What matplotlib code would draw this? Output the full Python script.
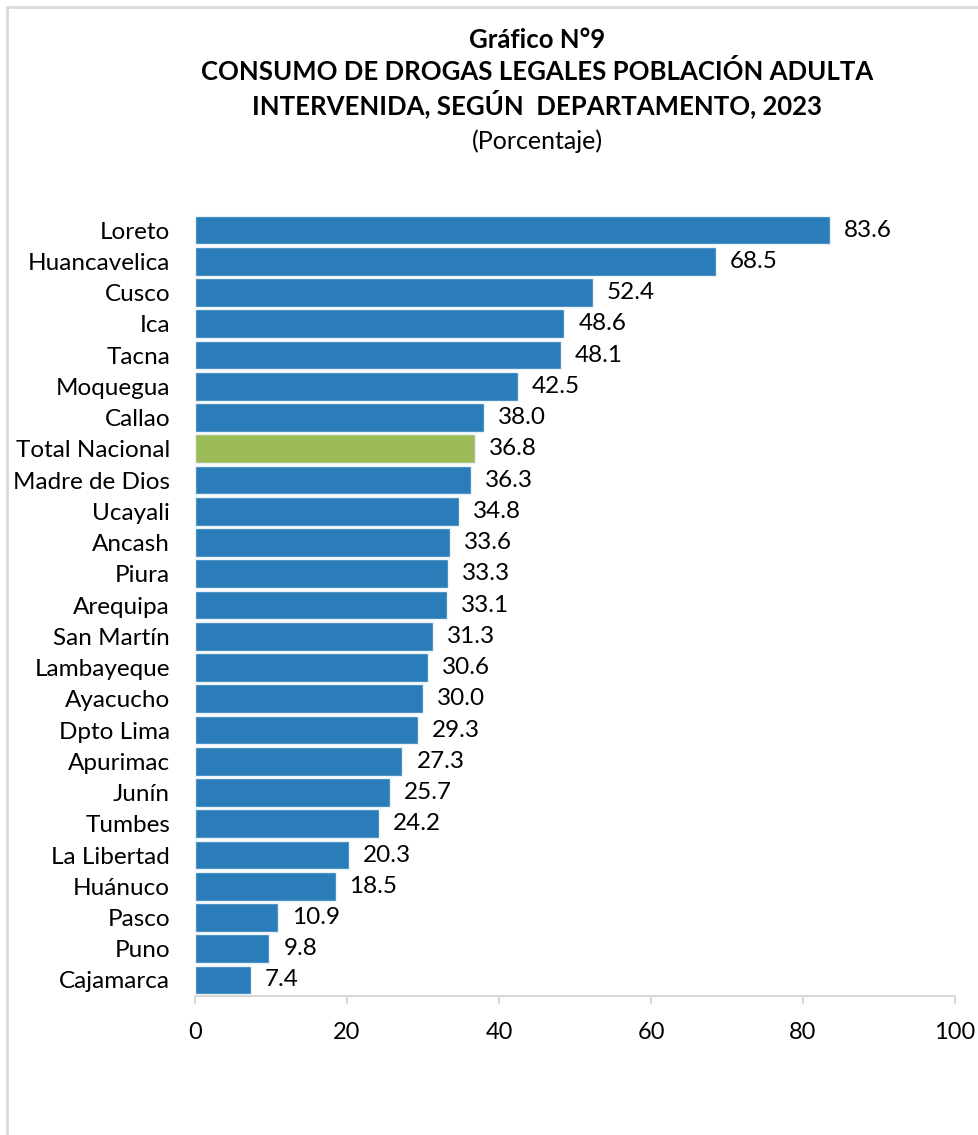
import matplotlib
matplotlib.use("Agg")
import matplotlib.pyplot as plt
from matplotlib.patches import Rectangle

plt.rcParams['font.family'] = ['Lato', 'DejaVu Sans']

departamentos = ['Loreto', 'Huancavelica', 'Cusco', 'Ica', 'Tacna', 'Moquegua',
                 'Callao', 'Total Nacional', 'Madre de Dios', 'Ucayali', 'Ancash',
                 'Piura', 'Arequipa', 'San Martín', 'Lambayeque', 'Ayacucho',
                 'Dpto Lima', 'Apurimac', 'Junín', 'Tumbes', 'La Libertad',
                 'Huánuco', 'Pasco', 'Puno', 'Cajamarca']
porcentajes = [83.6, 68.5, 52.4, 48.6, 48.1, 42.5, 38.0, 36.8, 36.3, 34.8, 33.6,
               33.3, 33.1, 31.3, 30.6, 30.0, 29.3, 27.3, 25.7, 24.2, 20.3,
               18.5, 10.9, 9.8, 7.4]
x_ticks = [0, 20, 40, 60, 80, 100]

azul = '#2A7DB8'
verde = '#9BBB59'
gris = '#D9D9D9'

colores = [verde if d == 'Total Nacional' else azul for d in departamentos]

fig = plt.figure(figsize=(9.79, 11.35), dpi=100)
ax = fig.add_axes([0.1992, 0.1228, 0.7763, 0.6883])

pos = list(range(len(departamentos)))
barras = ax.barh(pos, porcentajes, height=0.92, color=colores,
                 edgecolor='#EAF2F8', linewidth=1)
ax.bar_label(barras, labels=['%.1f' % v for v in porcentajes], padding=10,
             fontsize=17.5)

ax.set_ylim(len(departamentos) - 0.5, -0.5)
ax.set_xlim(0, 100)
ax.set_yticks(pos)
ax.set_yticklabels(departamentos, fontsize=17.5)
ax.set_xticks(x_ticks)
ax.set_xticklabels([str(t) for t in x_ticks], fontsize=17)
ax.tick_params(axis='y', length=0, pad=18)
ax.tick_params(axis='x', direction='out', length=6, width=1.5, color=gris, pad=13)

for s in ['top', 'right', 'left']:
    ax.spines[s].set_visible(False)
ax.spines['bottom'].set_color(gris)
ax.spines['bottom'].set_linewidth(1.5)

# marco del grafico
fig.patches.append(Rectangle((7 / 979, -0.1), 1.2, 1.1 - 7 / 1135,
                             transform=fig.transFigure, fill=False,
                             edgecolor=gris, linewidth=2))

xc = 537 / 979
fig.text(xc, 1 - 40 / 1135, 'Gráfico N°9', ha='center', va='center',
         fontsize=18.5, fontweight='bold')
fig.text(xc, 1 - 72 / 1135, 'CONSUMO DE DROGAS LEGALES POBLACIÓN ADULTA',
         ha='center', va='center', fontsize=18.5, fontweight='bold')
fig.text(xc, 1 - 104 / 1135, 'INTERVENIDA, SEGÚN  DEPARTAMENTO, 2023',
         ha='center', va='center', fontsize=18.5, fontweight='bold')
fig.text(xc, 1 - 141 / 1135, '(Porcentaje)', ha='center', va='center',
         fontsize=18)

fig.savefig('out.png', dpi=100)
